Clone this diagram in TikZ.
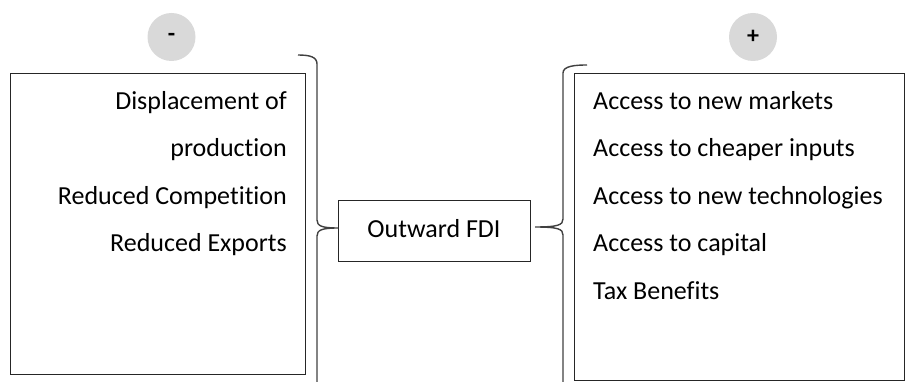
\documentclass[tikz,border=0pt]{standalone}
\usepackage{fontspec}
\setmainfont[Ligatures=NoCommon]{Carlito}
\begin{document}
\begin{tikzpicture}[x=1pt,y=-1pt,
  boxline/.style={draw=black!85,line width=1.3pt},
  braceline/.style={draw=black!75,line width=1.4pt},
  lbl/.style={inner sep=0pt,font=\fontsize{26}{30}\selectfont},
  sign/.style={circle,fill=black!15,minimum size=48pt,inner sep=0pt,font=\fontsize{24}{28}\selectfont\bfseries}]
\useasboundingbox (0,0) rectangle (906,382);
\clip (0,0) rectangle (906,382);
% boxes
\node[boxline,anchor=north west,minimum width=295pt,minimum height=301pt,inner sep=0pt] (lbox) at (10,73) {};
\node[boxline,anchor=north west,minimum width=330pt,minimum height=307pt,inner sep=0pt] (rbox) at (574,73) {};
\node[boxline,anchor=north west,minimum width=192pt,minimum height=61pt,inner sep=0pt] (fdi) at (338,200) {};
\node[lbl,anchor=base] (fdit) at (434,238) {Outward FDI};
% signs
\node[sign] (minus) at (171.5,37) {-};
\node[sign] (plus) at (753,37) {+};
% left texts
\node[lbl,anchor=base east] (l1) at (287,110) {Displacement of};
\node[lbl,anchor=base east] (l2) at (287,157) {production};
\node[lbl,anchor=base east] (l3) at (287,205) {Reduced Competition};
\node[lbl,anchor=base east] (l4) at (287,252) {Reduced Exports};
% right texts
\node[lbl,anchor=base west] (r1) at (593,110) {Access to new markets};
\node[lbl,anchor=base west] (r2) at (593,157) {Access to cheaper inputs};
\node[lbl,anchor=base west] (r3) at (593,205) {Access to new technologies};
\node[lbl,anchor=base west] (r4) at (593,252) {Access to capital};
\node[lbl,anchor=base west] (r5) at (593,300) {Tax Benefits};
% braces
\coordinate (lbtop) at (298,55);
\coordinate (lbbot) at (317,400);
\coordinate (rbtop) at (587,65);
\coordinate (rbtip) at (535,227);
\coordinate (rbbot) at (563,400);
\draw[braceline] (lbtop) .. controls (310,55) and (317,57) .. (317,64) -- (317,220)
  .. controls (317,226) and (322,228) .. (fdi.west |- 0,228)
  (fdi.west |- 0,228) .. controls (322,228) and (317,230) .. (317,236) -- (lbbot);
\draw[braceline] (rbtop) .. controls (575,65) and (563,66) .. (563,73) -- (563,219)
  .. controls (563,225) and (558,227) .. (rbtip)
  (rbtip) .. controls (558,227) and (563,229) .. (563,235) -- (rbbot);
\end{tikzpicture}
\end{document}
